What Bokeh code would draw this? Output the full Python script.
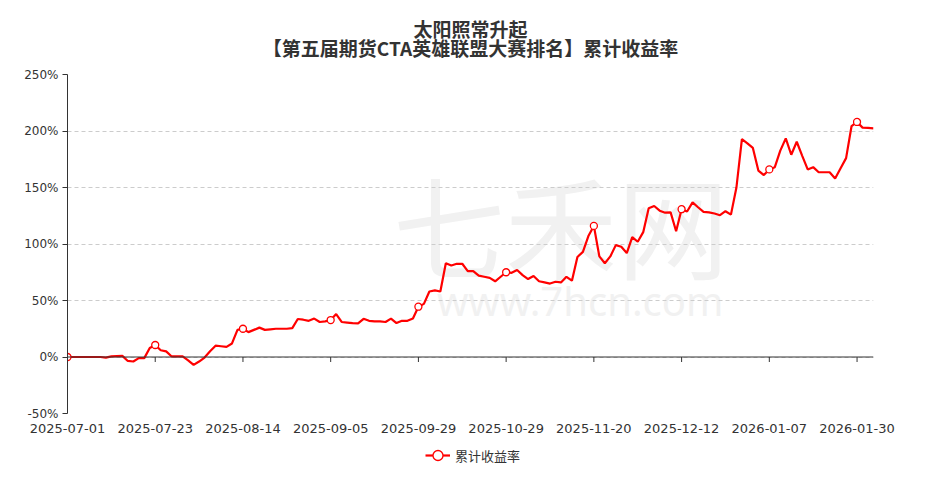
from bokeh.plotting import figure
from bokeh.layouts import column
from bokeh.models import (FixedTicker, PrintfTickFormatter, Legend, Span,
                          LegendItem, Range1d, Label)
from bokeh.embed import file_html
from bokeh.resources import INLINE

title_line1 = "太阳照常升起"
title_line2 = "【第五届期货CTA英雄联盟大赛排名】累计收益率"
series_name = "累计收益率"

tick_labels = ["2025-07-01", "2025-07-23", "2025-08-14", "2025-09-05", "2025-09-29",
               "2025-10-29", "2025-11-20", "2025-12-12", "2026-01-07", "2026-01-30"]

y_ticks = [-50, 0, 50, 100, 150, 200, 250]

cum_return = [
    0, 0, 0, 0, 0, 0, 0, -0.5, 0.5, 0.8,
    1, -3.5, -4, -1, -1, 8, 10.6, 6, 5, 0.5,
    0.5, 0.5, -3, -7, -4, -0.5, 5, 10, 9.5, 9,
    12, 24, 25, 22, 24, 26, 24, 24.5, 25, 25,
    25, 25.5, 33.6, 33, 32, 34, 31, 31.5, 32.7, 38,
    31, 30.5, 30, 29.7, 33.8, 32, 31.5, 31.5, 31, 34,
    30, 32, 32, 34, 44.5, 47, 58, 59, 58, 83,
    81, 82.5, 82.5, 76, 76, 72, 71, 70, 67, 71,
    75, 74.5, 77, 72.5, 69, 71.7, 67, 66, 65, 66.6,
    66, 71, 67.5, 88.5, 93, 107, 116, 89, 83, 89,
    99, 97.6, 92, 106, 102, 110.5, 131.6, 133.6, 129.5, 127.7,
    128, 111.3, 130.8, 128.8, 136.8, 132.5, 128.5, 128, 127, 125.5,
    129, 126, 150, 192.7, 189, 185, 165, 161, 166, 168,
    182.6, 193.5, 179, 190.5, 178, 166, 168, 163.5, 163.5, 163.5,
    158, 167, 176, 204.4, 208, 203, 202.8, 202.4,
]

N = len(cum_return)
xs = list(range(N))
label_step = 16
tick_idx = list(range(0, N, label_step))[:len(tick_labels)]
marker_y = [cum_return[i] for i in tick_idx]

RED = "#ff0000"
TXT = "#333333"

# ---- title strip ----
pt = figure(width=913, height=64, output_backend="svg", toolbar_location=None,
            x_range=Range1d(0, 1), y_range=Range1d(0, 64), min_border=0)
pt.axis.visible = False
pt.grid.visible = False
pt.outline_line_color = None
for txt, yy in ((title_line1, 36), (title_line2, 17)):
    pt.add_layout(Label(x=0.5, y=yy, text=txt, text_font="Noto Sans CJK SC",
                        text_font_size="19px", text_font_style="bold",
                        text_color=TXT, text_align="center", text_baseline="middle"))

# ---- main chart ----
p = figure(width=913, height=376, output_backend="svg", toolbar_location=None,
           title=None, x_range=Range1d(0, N - 1), y_range=Range1d(-50, 250),
           min_border_left=67, min_border_right=40, min_border_top=10,
           min_border_bottom=27)
p.outline_line_color = None
p.background_fill_color = "white"
p.border_fill_color = "white"

# watermark
wm1 = Label(x=90, y=119, text="七禾网", text_font="Noto Sans CJK SC",
            text_font_size="112px", text_color="#f1f1f1", text_align="center",
            text_baseline="middle", level="image")
wm2 = Label(x=93.5, y=50, text="www.7hcn.com", text_font="Noto Sans",
            text_font_size="40px", text_color="#f1f1f1", text_align="center",
            text_baseline="middle", level="image")
p.add_layout(wm1)
p.add_layout(wm2)

# grid
p.xgrid.visible = False
p.ygrid.ticker = FixedTicker(ticks=y_ticks)
p.ygrid.grid_line_color = "#cccccc"
p.ygrid.grid_line_dash = "4 3"
p.ygrid.grid_line_width = 1

# y axis
p.yaxis.ticker = FixedTicker(ticks=y_ticks)
p.yaxis.formatter = PrintfTickFormatter(format="%d%%")
p.yaxis.axis_line_color = TXT
p.yaxis.major_tick_line_color = TXT
p.yaxis.major_tick_in = 0
p.yaxis.major_tick_out = 5
p.yaxis.minor_tick_line_color = None
p.yaxis.major_label_standoff = 4
p.yaxis.major_label_text_font = "DejaVu Sans"
p.yaxis.major_label_text_font_size = "12px"
p.yaxis.major_label_text_color = TXT

# x axis (labels only, at the bottom)
p.xaxis.ticker = FixedTicker(ticks=tick_idx)
p.xaxis.major_label_overrides = {i: lab for i, lab in zip(tick_idx, tick_labels)}
p.xaxis.axis_line_color = None
p.xaxis.major_tick_line_color = None
p.xaxis.minor_tick_line_color = None
p.xaxis.major_tick_in = 0
p.xaxis.major_tick_out = 0
p.xaxis.major_label_standoff = 10
p.xaxis.major_label_text_font = "DejaVu Sans"
p.xaxis.major_label_text_font_size = "13px"
p.xaxis.major_label_text_color = TXT

# zero line with downward ticks
p.add_layout(Span(location=0, dimension="width", line_color=TXT, line_width=1))
tick_len = 5 * 300 / 339
p.segment(x0=tick_idx, y0=[0] * len(tick_idx), x1=tick_idx,
          y1=[-tick_len] * len(tick_idx), line_color=TXT, line_width=1)

line_r = p.line(xs, cum_return, line_color=RED, line_width=2.2)
mark_r = p.scatter(tick_idx, marker_y, marker="circle", size=7, fill_color="white",
                   line_color=RED, line_width=1.3)

# ---- legend strip ----
pl = figure(width=913, height=30, output_backend="svg", toolbar_location=None,
            x_range=Range1d(0, 1), y_range=Range1d(0, 1), min_border=0)
pl.axis.visible = False
pl.grid.visible = False
pl.outline_line_color = None
leg_line = pl.line([-5, -4], [-5, -5], line_color=RED, line_width=2.2)
leg_mark = pl.scatter([-5], [-5], marker="circle", fill_color="white",
                      line_color=RED, line_width=1.3)
legend = Legend(items=[LegendItem(label=series_name, renderers=[leg_line, leg_mark])],
                orientation="horizontal", location=(358, 0),
                border_line_color=None, background_fill_alpha=0,
                label_text_font="Noto Sans CJK SC", label_text_font_size="13px",
                label_text_color=TXT, glyph_width=25, glyph_height=30,
                label_standoff=5, padding=0, margin=0)
pl.add_layout(legend, "center")

layout = column(pt, p, pl, spacing=0)
open("out.html", "w").write(file_html(layout, INLINE))
